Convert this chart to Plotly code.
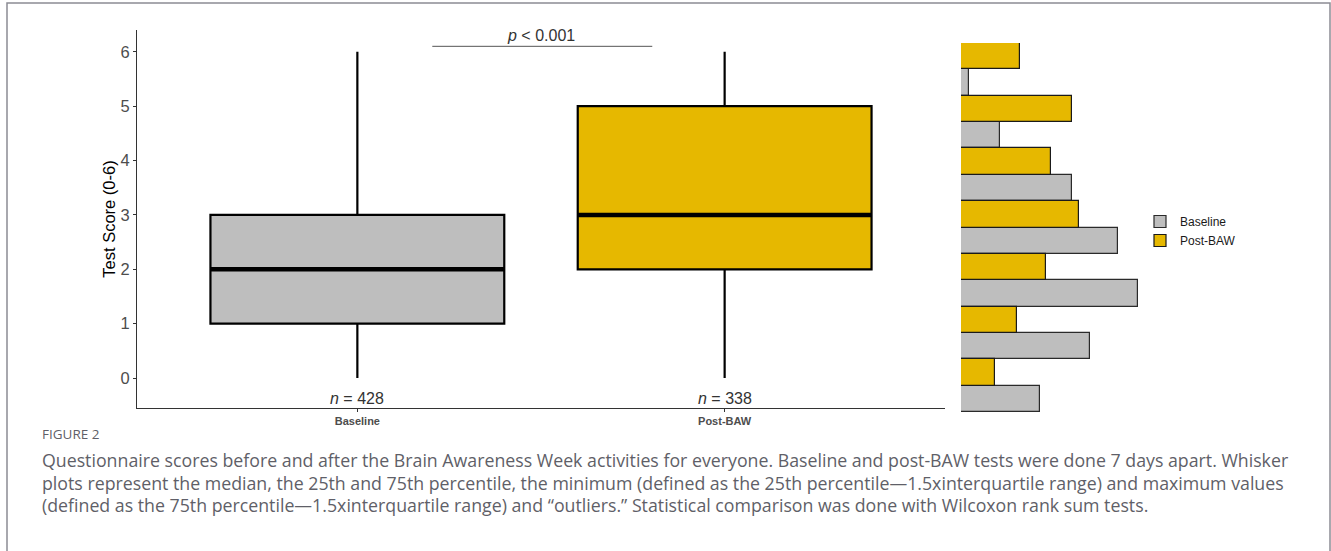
import plotly.graph_objects as go

W, H = 1331, 551

# ---- data ----
groups = ["Baseline", "Post-BAW"]
group_pos = [1, 2]
n_sizes = [428, 338]
q1 = [1, 2]
medians = [2, 3]
q3 = [3, 5]
lower_whisker = [0, 0]
upper_whisker = [6, 6]

scores = [0, 1, 2, 3, 4, 5, 6]
baseline_counts = [48, 79, 108, 96, 68, 24, 5]
post_counts = [21, 34, 52, 72, 55, 68, 36]

colors = {"Baseline": "#BEBEBE", "Post-BAW": "#E6B800"}


def fx(px):
    return px / W


def fy(py):
    return 1 - py / H


fig = go.Figure()

# ---- box plots ----
for i, g in enumerate(groups):
    fig.add_trace(go.Box(
        x=[group_pos[i]], q1=[q1[i]], median=[medians[i]], q3=[q3[i]],
        lowerfence=[lower_whisker[i]], upperfence=[upper_whisker[i]],
        width=0.8, whiskerwidth=0, fillcolor=colors[g],
        line=dict(color="black", width=2.2), boxpoints=False,
        name=g, showlegend=False, hoverinfo="skip",
        xaxis="x", yaxis="y",
    ))
    # heavier median bar
    fig.add_trace(go.Scatter(
        x=[group_pos[i] - 0.4, group_pos[i] + 0.4], y=[medians[i], medians[i]],
        mode="lines", line=dict(color="black", width=4.5),
        showlegend=False, hoverinfo="skip", xaxis="x", yaxis="y",
    ))

# ---- marginal distribution of scores ----
fig.add_trace(go.Bar(
    y=scores, x=baseline_counts, orientation="h", name="Baseline",
    marker=dict(color=colors["Baseline"], line=dict(color="#2a2a2a", width=1.2)),
    xaxis="x2", yaxis="y2",
))
fig.add_trace(go.Bar(
    y=scores, x=post_counts, orientation="h", name="Post-BAW",
    marker=dict(color=colors["Post-BAW"], line=dict(color="#1a1a1a", width=1.2)),
    xaxis="x2", yaxis="y2",
))

label_font = dict(family="Liberation Sans, Arial", size=16, color="#333333")
annotations = []
for i, g in enumerate(groups):
    annotations.append(dict(
        x=group_pos[i], y=-0.37, xref="x", yref="y",
        text=f"<i>n</i> = {n_sizes[i]}", showarrow=False, font=label_font,
    ))

# significance bracket label
annotations.append(dict(
    x=1.5, y=6.3, xref="x", yref="y", text="<i>p</i> < 0.001",
    showarrow=False, font=label_font,
))

# caption
cap_font = dict(family="Open Sans", size=17.75, color="#5f5f68")
annotations.append(dict(
    x=fx(40), y=fy(434), xref="paper", yref="paper", xanchor="left", yanchor="middle",
    text="FIGURE 2", showarrow=False,
    font=dict(family="Open Sans", size=13.5, color="#5f5f68"),
))
caption_lines = [
    "Questionnaire scores before and after the Brain Awareness Week activities for everyone. Baseline and post-BAW tests were done 7 days apart. Whisker",
    "plots represent the median, the 25th and 75th percentile, the minimum (defined as the 25th percentile\u20141.5xinterquartile range) and maximum values",
    "(defined as the 75th percentile\u20141.5xinterquartile range) and \u201coutliers.\u201d Statistical comparison was done with Wilcoxon rank sum tests.",
]
for k, line in enumerate(caption_lines):
    annotations.append(dict(
        x=fx(40), y=fy(460 + 22.5 * k), xref="paper", yref="paper",
        xanchor="left", yanchor="middle", text=line, showarrow=False, font=cap_font,
    ))

shapes = [
    # bracket line
    dict(type="line", xref="x", yref="y", x0=1.204, x1=1.803, y0=6.1, y1=6.1,
         line=dict(color="#555555", width=1)),
    # figure frame
    dict(type="path", xref="paper", yref="paper",
         path=f"M {fx(7)} {fy(560)} L {fx(7)} {fy(3)} L {fx(1330)} {fy(3)} L {fx(1330)} {fy(560)}",
         line=dict(color="#8c8c94", width=1.5)),
]

tick_font = dict(family="Liberation Sans, Arial", size=16.5, color="#4d4d4d")

fig.update_layout(
    width=W, height=H,
    margin=dict(l=0, r=0, t=0, b=0),
    paper_bgcolor="white", plot_bgcolor="white",
    barmode="group", bargap=0, bargroupgap=0,
    boxmode="overlay",
    xaxis=dict(
        domain=[fx(137), fx(945)], range=[0.4, 2.6],
        tickvals=group_pos, ticktext=[f"<b>{g}</b>" for g in groups],
        tickfont=dict(family="Liberation Sans, Arial", size=11, color="#4d4d4d"),
        showline=True, linecolor="#333333", linewidth=1.2,
        ticks="outside", ticklen=3, tickcolor="#333333",
        showgrid=False, zeroline=False, anchor="y",
    ),
    yaxis=dict(
        domain=[fy(408), fy(30)], range=[-0.55, 6.4],
        tickvals=scores, tickfont=tick_font,
        showline=True, linecolor="#333333", linewidth=1.2,
        ticks="outside", ticklen=3, tickcolor="#333333",
        showgrid=False, zeroline=False, anchor="x",
        title=dict(text="Test Score (0-6)", standoff=0,
                   font=dict(family="Liberation Sans, Arial", size=16.5, color="black")),
    ),
    xaxis2=dict(
        domain=[fx(961), fx(1141)], range=[0, 110],
        visible=False, anchor="y2",
    ),
    yaxis2=dict(
        domain=[fy(412), fy(43)], range=[-0.5, 6.5],
        visible=False, anchor="x2",
    ),
    legend=dict(
        x=fx(1140), y=fy(231), xanchor="left", yanchor="middle",
        font=dict(family="Liberation Sans, Arial", size=12, color="#1a1a1a"),
        bgcolor="rgba(0,0,0,0)", tracegroupgap=0, itemwidth=30,
    ),
    annotations=annotations,
    shapes=shapes,
)

fig.write_html("out.html")
